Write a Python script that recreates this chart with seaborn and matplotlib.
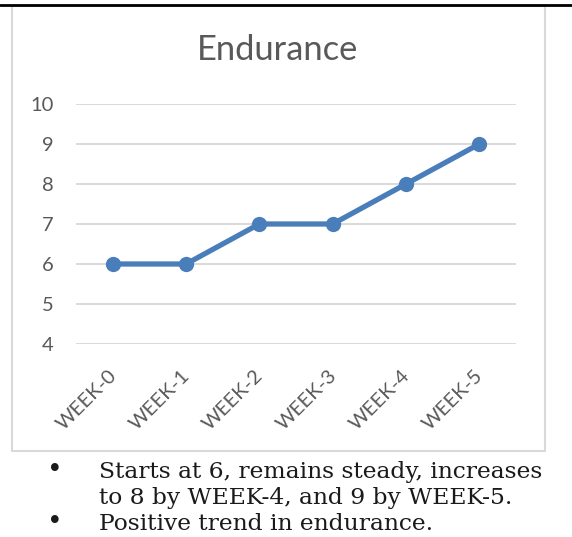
import matplotlib
matplotlib.use("Agg")
import matplotlib.pyplot as plt
import matplotlib.transforms as mtransforms
from matplotlib.patches import Rectangle
import pandas as pd
import seaborn as sns

weeks = ["WEEK-0", "WEEK-1", "WEEK-2", "WEEK-3", "WEEK-4", "WEEK-5"]
endurance = [6, 6, 7, 7, 8, 9]
y_ticks = [4, 5, 6, 7, 8, 9, 10]
notes = [
    ["Starts at 6, remains steady, increases", "to 8 by WEEK-4, and 9 by WEEK-5."],
    ["Positive trend in endurance."],
]

df = pd.DataFrame({"week": weeks, "endurance": endurance})

sns.set_theme(style="white")
plt.rcParams["font.family"] = ["Lato", "DejaVu Sans"]

W, H = 572, 537
fig = plt.figure(figsize=(W / 100, H / 100), dpi=100)

def fx(px):
    return px / W

def fy(py):
    return 1 - py / H

# chart frame and the black rule at the top
fig.patches.append(Rectangle((fx(12), fy(451)), fx(545) - fx(12), fy(6) - fy(451),
                             transform=fig.transFigure, fill=False,
                             edgecolor="#d9d9d9", linewidth=1.5))
fig.add_artist(plt.Line2D([0, 1], [fy(4.5), fy(4.5)], transform=fig.transFigure,
                          color="black", linewidth=2))

ax = fig.add_axes([fx(76), fy(344), fx(516) - fx(76), fy(104) - fy(344)])
sns.lineplot(data=df, x="week", y="endurance", ax=ax, sort=False,
             color="#4a7ebb", linewidth=3.8, marker="o", markersize=11,
             markeredgewidth=0)

ax.set_xlim(-0.5, len(weeks) - 0.5)
ax.set_ylim(min(y_ticks), max(y_ticks))
ax.set_yticks(y_ticks)
ax.set_xticks(range(len(weeks)))
ax.set_xticklabels(weeks, rotation=45, ha="right", va="center",
                   rotation_mode="anchor")
ax.grid(axis="y", color="#d9d9d9", linewidth=1.4)
ax.set_axisbelow(True)
for s in ax.spines.values():
    s.set_visible(False)
ax.set_xlabel("")
ax.set_ylabel("")
ax.tick_params(axis="y", length=0, pad=16, labelsize=14.5, labelcolor="#595959")
ax.tick_params(axis="x", length=0, pad=21, labelsize=14.5, labelcolor="#595959")
shift = mtransforms.ScaledTranslation(0.01, 0, fig.dpi_scale_trans)
for lbl in ax.get_xticklabels():
    lbl.set_transform(lbl.get_transform() + shift)

fig.text(fx(278), fy(50), "Endurance", ha="center", va="center",
         fontsize=24.8, color="#595959")

# bullet notes under the chart
baselines = [[478, 504], [530]]
for lines, ys in zip(notes, baselines):
    fig.text(fx(55), fy(ys[0] - 1), "\u2022", ha="center", va="baseline",
             fontsize=19, color="#1a1a1a", family="DejaVu Serif")
    for line, y in zip(lines, ys):
        fig.text(fx(99), fy(y), line, ha="left", va="baseline",
                 fontsize=16.8, color="#1a1a1a", family="DejaVu Serif")

fig.savefig("out.png", dpi=100)
